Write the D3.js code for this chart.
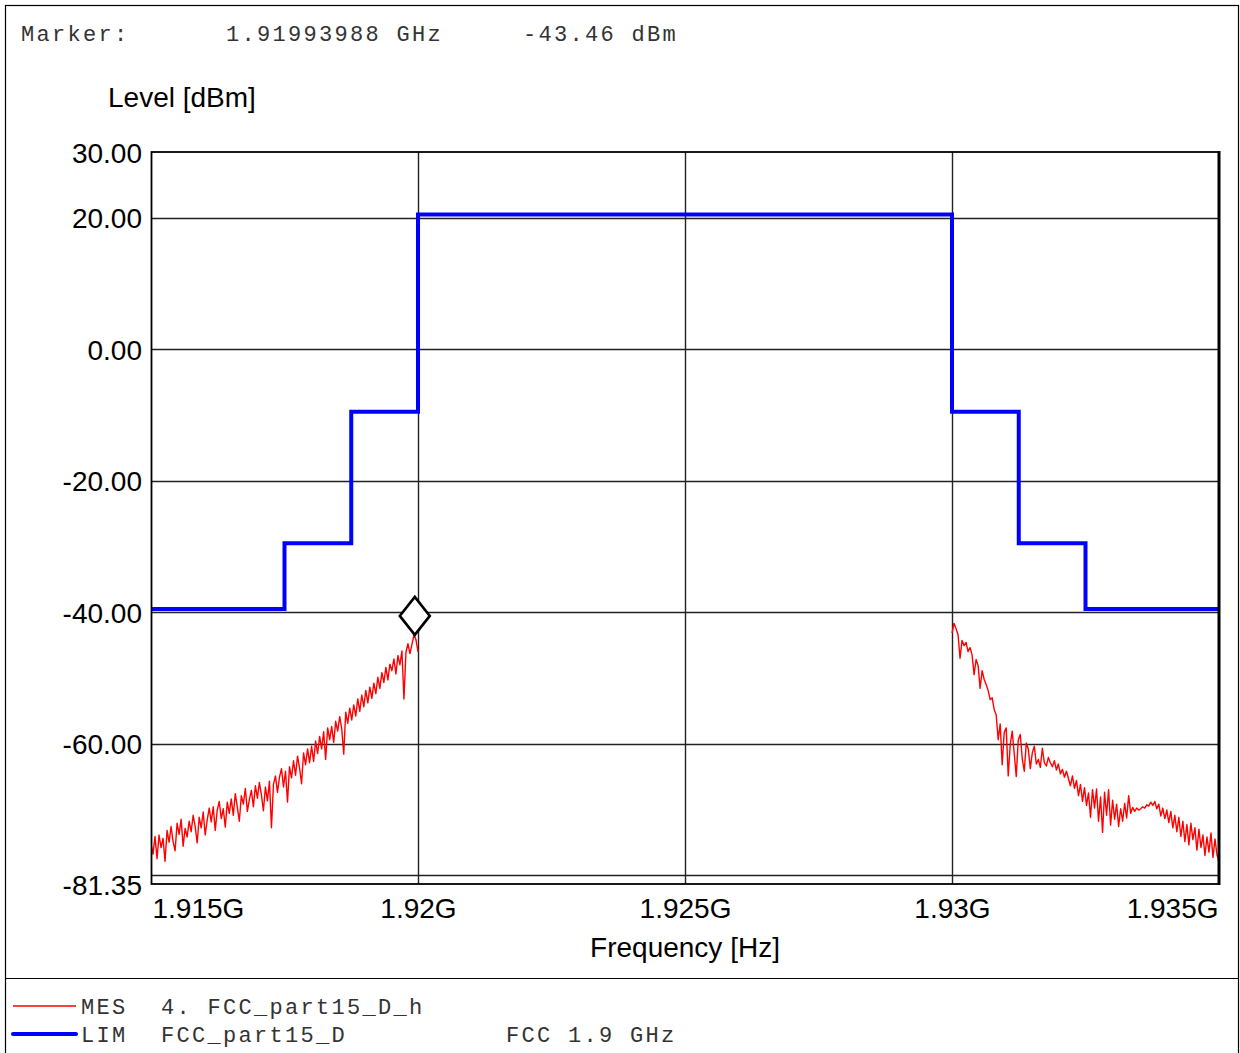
<!DOCTYPE html>
<html>
<head>
<meta charset="utf-8">
<script src="https://cdn.jsdelivr.net/npm/d3@7"></script>
<style>
  html, body { margin: 0; padding: 0; background: #fff; }
  svg { display: block; }
</style>
</head>
<body>
<svg id="chart" width="1240" height="1053"></svg>
<script>
// ---------------- DATA ----------------
const markerFreqGHz = 1.91993988;
const markerLevel = -43.46;

const yTickValues = [30, 20, 0, -20, -40, -60, -81.35];
const yGridValues = [20, 0, -20, -40, -60, -80];
const xTickValuesGHz = [1.915, 1.92, 1.925, 1.93, 1.935];
const xTickLabels = ["1.915G", "1.92G", "1.925G", "1.93G", "1.935G"];
const xGridValuesGHz = [1.92, 1.925, 1.93];

// Limit line (step-after)
const limitFreqGHz = [1.915, 1.9175, 1.91875, 1.92, 1.93, 1.93125, 1.9325, 1.935];
const limitLevel   = [-39.5, -29.5, -9.5, 20.5, -9.5, -29.5, -39.5, -39.5];

// Measurement sweeps (uniform frequency steps between start and stop)
const mesLeftStartGHz = 1.915, mesLeftStopGHz = 1.92;
const mesLeftLevel = [
  -75.2, -76.8, -74.1, -77.5, -73.9, -75.8, -74.4, -77.9, -73.2, -75.0,
  -72.6, -74.9, -76.3, -72.1, -73.8, -71.5, -75.6, -72.9, -74.2, -71.8,
  -73.4, -70.9, -72.6, -75.1, -71.2, -72.8, -70.4, -73.9, -71.6, -69.8,
  -71.9, -69.6, -73.2, -70.1, -68.8, -71.4, -69.9, -72.7, -68.9, -70.6,
  -68.4, -70.9, -67.6, -69.7, -71.8, -67.9, -69.2, -66.8, -70.3, -68.5,
  -67.1, -69.6, -66.4, -68.3, -65.9, -67.8, -70.2, -66.6, -68.7, -65.7,
  -72.8, -66.2, -64.9, -67.4, -65.1, -63.8, -66.6, -64.2, -68.9, -63.5,
  -65.2, -62.6, -64.8, -61.9, -63.7, -66.1, -61.4, -63.2, -60.8, -62.9,
  -60.4, -62.7, -59.6, -61.5, -58.9, -60.8, -58.2, -62.4, -57.6, -59.4,
  -57.4, -59.8, -56.6, -58.1, -55.9, -57.7, -61.6, -55.2, -56.9, -54.6,
  -56.4, -54.1, -55.8, -53.2, -55.1, -52.6, -54.4, -51.9, -53.8, -51.4,
  -53.1, -50.8, -52.4, -49.9, -51.6, -49.2, -50.7, -48.4, -50.3, -47.9,
  -48.9, -47.1, -49.4, -46.6, -48.0, -45.9, -53.2, -46.1, -44.8, -46.3,
  -44.9, -43.4, -44.2, -46.0
];
const mesRightStartGHz = 1.93, mesRightStopGHz = 1.935;
const mesRightLevel = [
  -43.2, -41.7, -42.5, -43.4, -47.0, -44.3, -45.1, -44.6, -46.0, -45.4,
  -46.5, -49.5, -47.2, -48.1, -51.6, -48.9, -50.2, -51.0, -51.9, -53.3,
  -53.0, -54.8, -55.6, -59.4, -57.0, -63.2, -58.3, -57.6, -64.9, -60.2,
  -58.1, -61.5, -65.0, -59.4, -58.6, -62.3, -64.2, -59.9, -60.8, -63.8,
  -61.4, -60.4, -63.1, -62.4, -63.6, -60.7, -62.9, -63.4, -62.1, -62.9,
  -63.5, -62.6, -64.0, -63.1, -64.6, -63.9, -65.1, -64.2, -65.3, -66.4,
  -64.9, -66.8, -65.6, -67.9, -66.2, -68.8, -66.7, -69.4, -67.5, -71.2,
  -67.0, -69.8, -66.9, -71.8, -68.1, -73.5, -67.4, -70.9, -67.0, -72.4,
  -68.6, -71.5, -69.2, -72.6, -69.9, -71.8, -69.1, -71.3, -67.9, -70.6,
  -69.7, -70.3, -69.8, -70.1, -69.9, -69.6, -69.8, -69.3, -69.5, -68.9,
  -69.4, -68.8, -69.9, -69.2, -71.0, -69.8, -71.4, -70.1, -72.0, -70.3,
  -72.8, -70.9, -73.4, -71.2, -74.1, -71.8, -74.9, -72.3, -75.4, -72.1,
  -74.6, -72.8, -76.2, -73.0, -75.8, -73.9, -77.0, -74.2, -76.5, -73.6,
  -77.3, -74.5, -76.9, -78.0
];

const headerTexts = ["Marker:", "1.91993988 GHz", "-43.46 dBm"];
const legendItems = [
  { key: "MES", name: "4. FCC_part15_D_h", extra: "", color: "#ff0000", width: 1.3 },
  { key: "LIM", name: "FCC_part15_D", extra: "FCC 1.9 GHz", color: "#0000ff", width: 4 }
];

// ---------------- DRAWING ----------------
const svg = d3.select("#chart");
const plot = { left: 151, right: 1219, top: 152, bottom: 884 };

const x = d3.scaleLinear().domain([1.915, 1.935]).range([plot.left, plot.right]);
const y = d3.scaleLinear().domain([-81.35, 30]).range([plot.bottom, plot.top]);

const mono = "'Liberation Mono', 'DejaVu Sans Mono', monospace";
const sans = "'Liberation Sans', Arial, sans-serif";
const sansSize = 28;

// outer frame
svg.append("rect").attr("x", 5.5).attr("y", 5.5).attr("width", 1233).attr("height", 1070)
  .attr("fill", "none").attr("stroke", "#000").attr("stroke-width", 1.2);
svg.append("line").attr("x1", 5).attr("x2", 1239).attr("y1", 978.5).attr("y2", 978.5)
  .attr("stroke", "#000").attr("stroke-width", 1.2);

// header
const headerX = [21, 226, 523];
svg.selectAll("text.header").data(headerTexts).join("text")
  .attr("class", "header")
  .attr("x", (d, i) => headerX[i]).attr("y", 41)
  .attr("font-family", mono).attr("font-size", 22).attr("letter-spacing", 2.3)
  .attr("fill", "#333").text(d => d);

// axis titles
svg.append("text").attr("x", 108).attr("y", 107)
  .attr("font-family", sans).attr("font-size", sansSize).attr("fill", "#000")
  .text("Level [dBm]");
svg.append("text").attr("x", 685).attr("y", 957).attr("text-anchor", "middle")
  .attr("font-family", sans).attr("font-size", sansSize).attr("fill", "#000")
  .text("Frequency [Hz]");

// clip
svg.append("clipPath").attr("id", "plotclip").append("rect")
  .attr("x", plot.left).attr("y", plot.top)
  .attr("width", plot.right - plot.left).attr("height", plot.bottom - plot.top);

// grid
const grid = svg.append("g");
grid.selectAll("line.hg").data(yGridValues).join("line")
  .attr("x1", plot.left).attr("x2", plot.right)
  .attr("y1", d => Math.round(y(d)) + 0.5).attr("y2", d => Math.round(y(d)) + 0.5)
  .attr("stroke", "#222").attr("stroke-width", 1.4);
grid.selectAll("line.vg").data(xGridValuesGHz).join("line")
  .attr("y1", plot.top).attr("y2", plot.bottom)
  .attr("x1", d => Math.round(x(d)) + 0.5).attr("x2", d => Math.round(x(d)) + 0.5)
  .attr("stroke", "#222").attr("stroke-width", 1.4);

// y axis labels
const yAxis = d3.axisLeft(y).tickValues(yTickValues).tickSize(0).tickPadding(9)
  .tickFormat(d => d.toFixed(2));
const gy = svg.append("g").attr("transform", `translate(${plot.left},0)`).call(yAxis);
gy.select(".domain").remove();
gy.selectAll("text").attr("font-family", sans).attr("font-size", sansSize).attr("fill", "#000")
  .attr("dy", "0.36em");

// x axis labels
const xAxis = d3.axisBottom(x).tickValues(xTickValuesGHz).tickSize(0).tickPadding(14)
  .tickFormat((d, i) => xTickLabels[i]);
const gx = svg.append("g").attr("transform", `translate(0,${plot.bottom})`).call(xAxis);
gx.select(".domain").remove();
gx.selectAll("text").attr("font-family", sans).attr("font-size", sansSize).attr("fill", "#000")
  .attr("text-anchor", (d, i) => i === 0 ? "start" : (i === xTickValuesGHz.length - 1 ? "end" : "middle"))
  .attr("dx", (d, i) => i === 0 ? 1 : (i === xTickValuesGHz.length - 1 ? -1 : 0));

const data = svg.append("g").attr("clip-path", "url(#plotclip)");

// limit line
const limitPts = limitFreqGHz.map((f, i) => [f, limitLevel[i]]);
data.append("path").datum(limitPts)
  .attr("d", d3.line().x(d => x(d[0])).y(d => y(d[1])).curve(d3.curveStepAfter))
  .attr("fill", "none").attr("stroke", "#0000ff").attr("stroke-width", 4);

// measurement traces
function sweep(levels, f0, f1) {
  const n = levels.length;
  return levels.map((v, i) => [f0 + (f1 - f0) * i / (n - 1), v]);
}
const mesLine = d3.line().x(d => x(d[0])).y(d => y(d[1]));
[sweep(mesLeftLevel, mesLeftStartGHz, mesLeftStopGHz),
 sweep(mesRightLevel, mesRightStartGHz, mesRightStopGHz)].forEach(pts => {
  data.append("path").datum(pts).attr("d", mesLine)
    .attr("fill", "none").attr("stroke", "#ff0000").attr("stroke-width", 1.4)
    .attr("stroke-linejoin", "round");
});

// marker diamond (bottom vertex at marker point)
const mx = x(markerFreqGHz), my = y(markerLevel);
svg.append("path")
  .attr("d", `M${mx},${my} L${mx + 15},${my - 19} L${mx},${my - 38} L${mx - 15},${my - 19} Z`)
  .attr("fill", "#fff").attr("stroke", "#000").attr("stroke-width", 2.6)
  .attr("stroke-linejoin", "miter");

// plot frame
svg.append("rect").attr("x", plot.left + 0.5).attr("y", plot.top)
  .attr("width", plot.right - plot.left - 0.5).attr("height", plot.bottom - plot.top)
  .attr("fill", "none").attr("stroke", "#000").attr("stroke-width", 1.8);
svg.append("line").attr("x1", plot.right).attr("x2", plot.right)
  .attr("y1", plot.top - 1).attr("y2", plot.bottom + 1)
  .attr("stroke", "#000").attr("stroke-width", 3);

// legend
const legY = [1006, 1034];
const leg = svg.append("g");
legendItems.forEach((it, i) => {
  leg.append("line").attr("x1", 13).attr("x2", 76).attr("y1", legY[i]).attr("y2", legY[i])
    .attr("stroke", it.color).attr("stroke-width", it.width).attr("stroke-linecap", i === 1 ? "round" : "butt");
  [[81, it.key], [161, it.name], [506, it.extra]].forEach(([tx, t]) => {
    if (!t) return;
    leg.append("text").attr("x", tx).attr("y", legY[i] + 8)
      .attr("font-family", mono).attr("font-size", 22).attr("letter-spacing", 2.3)
      .attr("fill", "#333").text(t);
  });
});
</script>
</body>
</html>
